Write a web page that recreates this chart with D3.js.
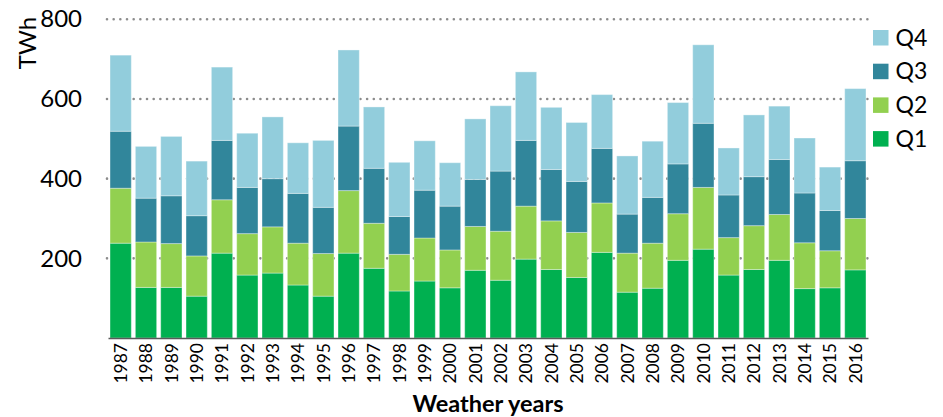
<!DOCTYPE html>
<html>
<head>
<meta charset="utf-8">
<script src="https://cdn.jsdelivr.net/npm/d3@7/dist/d3.min.js"></script>
<style>
  html, body { margin: 0; padding: 0; background: #fff; }
  svg { display: block; font-family: Lato, "Noto Sans", sans-serif; }
</style>
</head>
<body>
<svg id="chart" width="943" height="417"></svg>
<script>
const years = ["1987","1988","1989","1990","1991","1992","1993","1994","1995","1996",
  "1997","1998","1999","2000","2001","2002","2003","2004","2005","2006",
  "2007","2008","2009","2010","2011","2012","2013","2014","2015","2016"];
const q1 = [238,127,127,105,213,158,163,133,105,213,175,118,143,126,170,145,198,172,152,215,115,125,195,223,158,172,195,124,126,171];
const q2 = [138,114,110,101,134,104,116,105,107,157,113, 92,108, 95,110,123,133,122,113,124, 98,113,117,155, 94,110,115,115, 93,129];
const q3 = [143,110,120,101,149,116,121,125,116,162,138, 95,120,110,118,151,165,129,128,137, 98,115,125,161,107,123,138,125,101,145];
const q4 = [191,130,149,137,184,136,155,127,168,191,154,136,124,109,152,164,172,156,148,135,146,141,154,197,118,155,134,138,109,181];
const seriesNames = ["Q1","Q2","Q3","Q4"];
const yTicks = [200,400,600,800];
const colors = {Q1:"#00B050", Q2:"#92D050", Q3:"#31869B", Q4:"#92CDDC"};

const rows = years.map((y,i)=>({year:y, Q1:q1[i], Q2:q2[i], Q3:q3[i], Q4:q4[i]}));
const stacked = d3.stack().keys(seriesNames)(rows);

const svg = d3.select("#chart");
const x = d3.scaleBand().domain(years).range([108, 868]).paddingInner(0.16).paddingOuter(0.08);
const y = d3.scaleLinear().domain([0, 800]).range([338, 19.3]);

// gridlines
svg.append("g").selectAll("line").data(yTicks).join("line")
  .attr("x1", 107).attr("x2", 868)
  .attr("y1", d=>y(d)).attr("y2", d=>y(d))
  .attr("stroke", "#8c8c8c").attr("stroke-width", 2.6)
  .attr("stroke-linecap", "round").attr("stroke-dasharray", "0,6.67");

// bars
svg.append("g").selectAll("g").data(stacked).join("g")
  .attr("fill", d=>colors[d.key])
  .selectAll("rect").data(d=>d).join("rect")
  .attr("x", d=>x(d.data.year))
  .attr("width", x.bandwidth())
  .attr("y", d=>y(d[1]))
  .attr("height", d=>y(d[0]) - y(d[1]))
  .attr("stroke", "#ffffff").attr("stroke-opacity", 0.35).attr("stroke-width", 1);

// x axis
const xAxis = svg.append("g").attr("transform", "translate(0,338)")
  .call(d3.axisBottom(x).tickSize(0).tickPadding(0));
xAxis.select(".domain").attr("stroke", "#595959").attr("stroke-width", 1.6);
xAxis.selectAll("text")
  .attr("transform", "rotate(-90)")
  .attr("x", -5).attr("y", 0).attr("dy", "0.36em")
  .attr("text-anchor", "end")
  .attr("font-size", 17.5).attr("fill", "#000")
  .attr("font-family", "Lato, 'Noto Sans', sans-serif");

// y axis labels
const yAxis = svg.append("g").attr("transform", "translate(82,0)")
  .call(d3.axisLeft(y).tickValues(yTicks).tickSize(0).tickPadding(0));
yAxis.select(".domain").remove();
yAxis.selectAll("text").attr("font-size", 24).attr("fill", "#000")
  .attr("font-family", "Lato, 'Noto Sans', sans-serif");

// y title
svg.append("text").attr("transform", "translate(36,43) rotate(-90)")
  .attr("text-anchor", "middle").attr("font-size", 24).attr("fill", "#000").text("TWh");

// x title
svg.append("text").attr("x", 488).attr("y", 412)
  .attr("text-anchor", "middle").attr("font-size", 23.5).attr("font-weight", "bold")
  .attr("fill", "#000").text("Weather years");

// legend
const legendKeys = ["Q4","Q3","Q2","Q1"];
const lg = svg.append("g").selectAll("g").data(legendKeys).join("g")
  .attr("transform", (d,i)=>`translate(873,${30 + i*33.7})`);
lg.append("rect").attr("width", 15.5).attr("height", 15.5).attr("fill", d=>colors[d]);
lg.append("text").attr("x", 22.5).attr("y", 15.7).attr("font-size", 23).attr("fill", "#000").text(d=>d);
</script>
</body>
</html>
